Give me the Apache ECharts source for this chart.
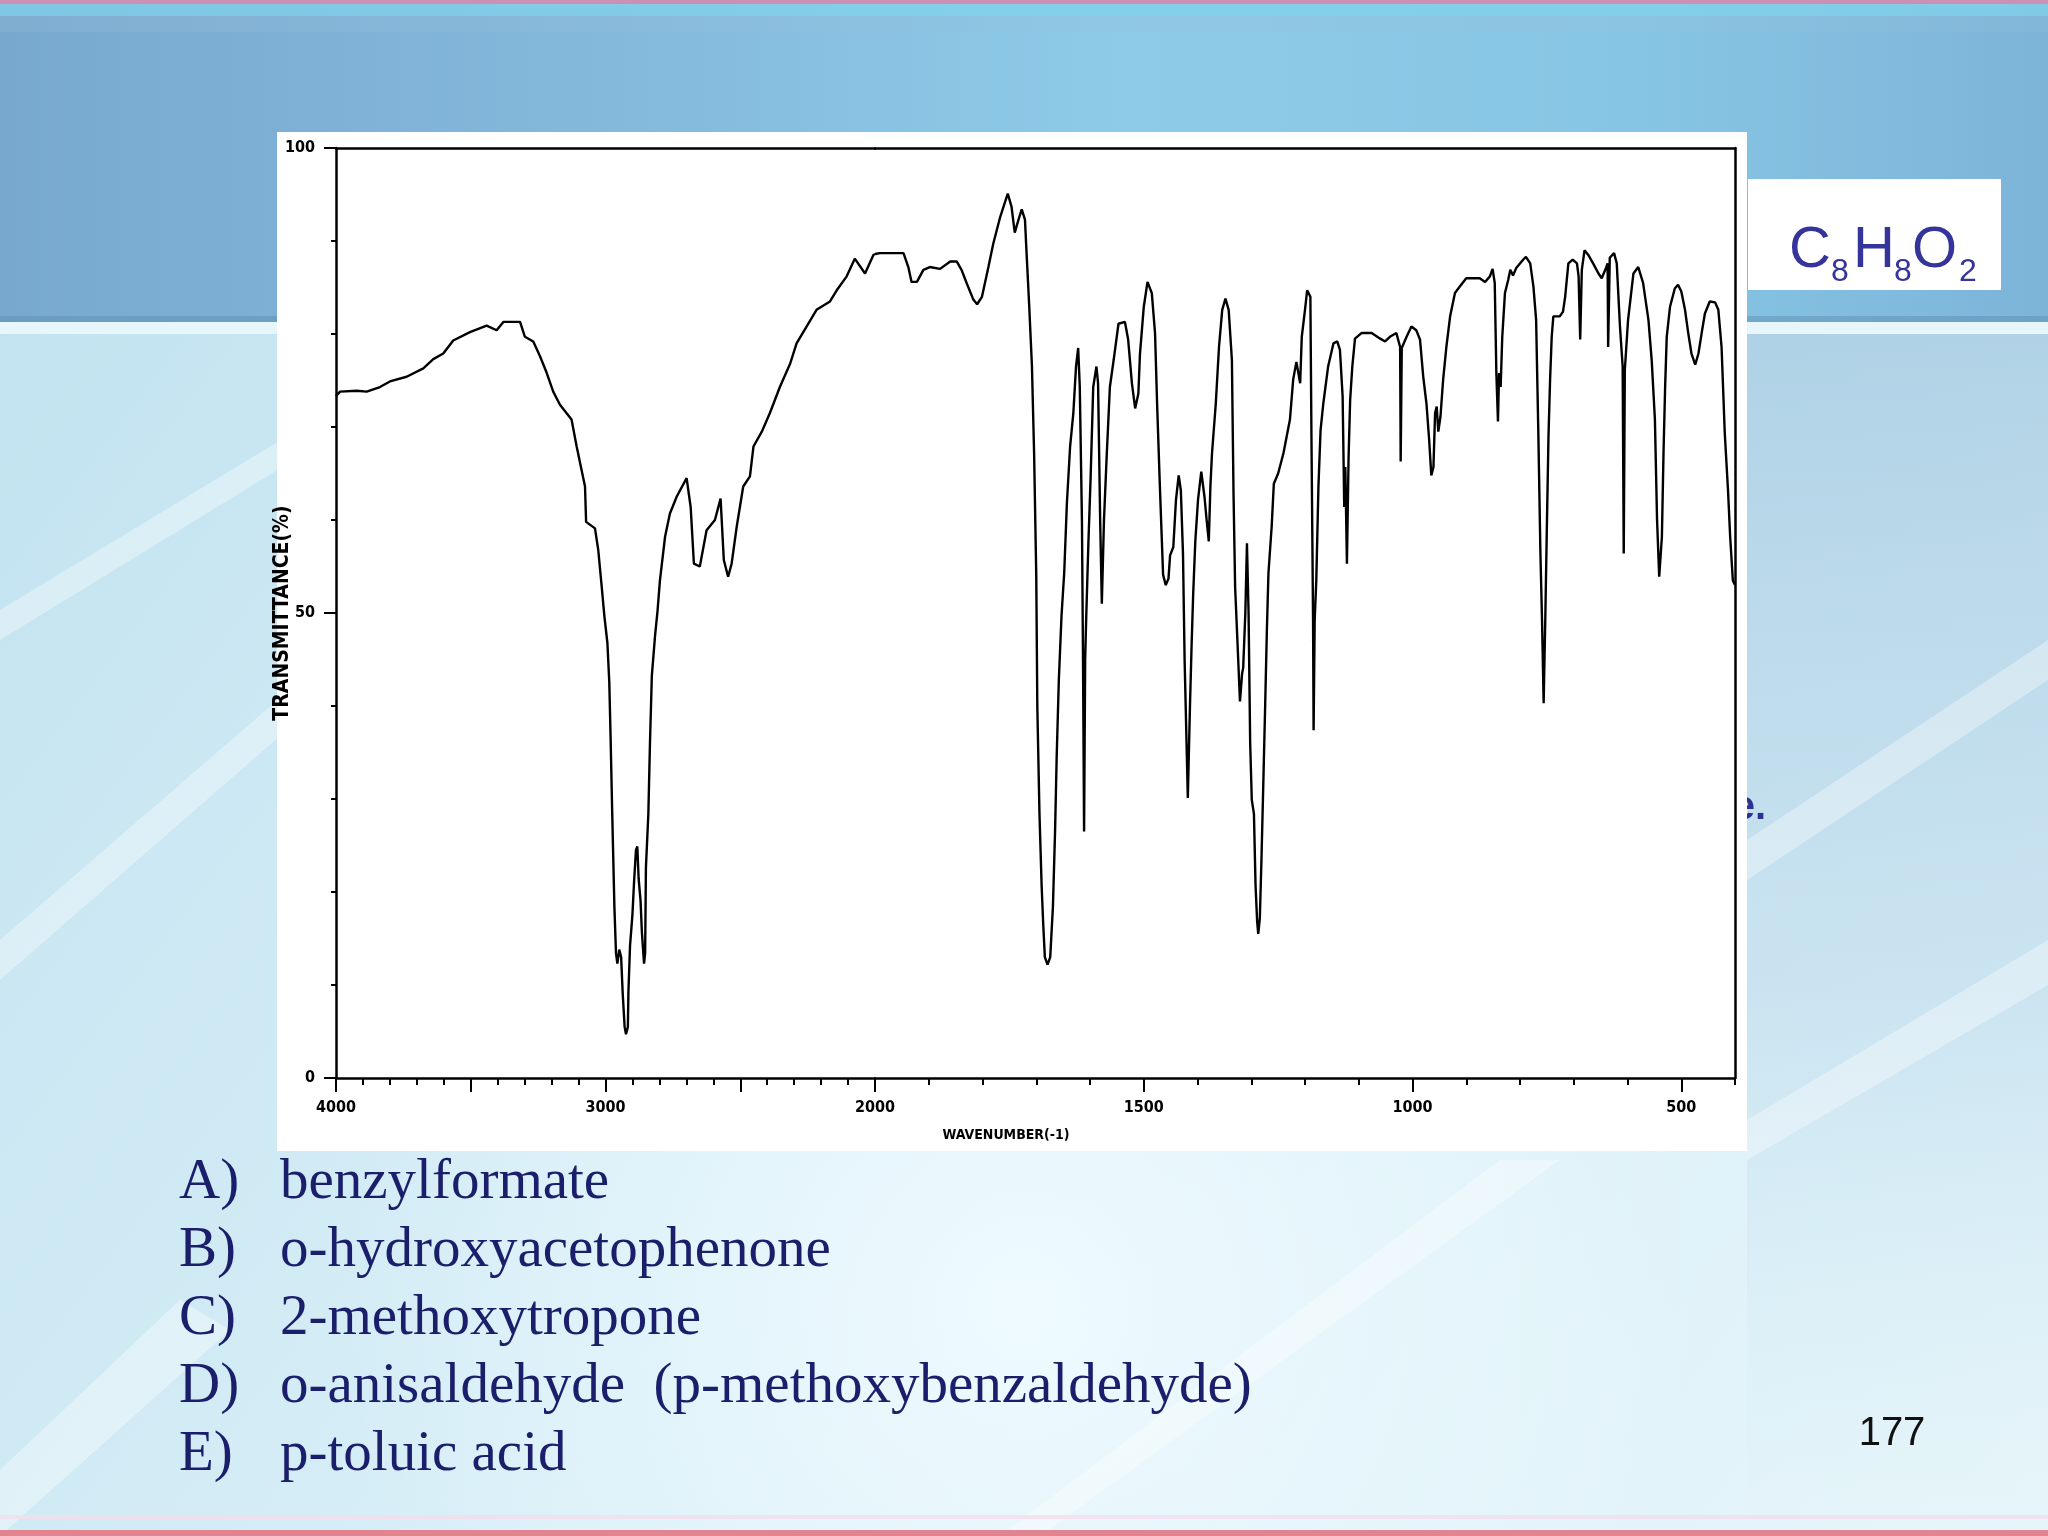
<!DOCTYPE html>
<html>
<head>
<meta charset="utf-8">
<script src="https://cdn.jsdelivr.net/npm/echarts@6/dist/echarts.min.js"></script>
<style>
html,body{margin:0;padding:0;background:#cfe9f4;}
#chart{width:2048px;height:1536px;}
</style>
</head>
<body>
<div id="chart"></div>
<script>
// ---- Data (wavenumber cm-1, transmittance %) ----
const wavenumber = [
4000,3985,3923,3886,3837,3800,3738,3676,3639,3602,3565,3503,3441,3404,3379,3317,3299,3268,3243,3218,
3194,3169,3126,3107,3089,3076,3072,3039,3027,3014,3004,2993,2986,2981,2975,2967,2961,2956,2949,2942,
2936,2929,2924,2917,2915,2909,2900,2894,2887,2882,2877,2870,2865,2857,2853,2850,2841,2835,2828,2816,
2807,2798,2779,2761,2736,2699,2684,2672,2650,2625,2594,2573,2561,2545,2532,2513,2489,2464,2451,2420,
2390,2353,2315,2291,2254,2217,2167,2142,2105,2075,2037,2006,2000,
1991,1966,1947,1938,1932,1922,1910,1898,1879,1860,1848,1839,1829,1817,1810,1801,1789,1780,1767,1753,
1746,1740,1733,1727,1721,1718,1713,1708,1704,1700,1698,1694,1690,1687,1684,1679,1674,1669,1665,1662,
1658,1653,1648,1643,1637,1631,1626,1622,1619,1615,1613,1611,1609,1607,1603,1599,1594,1588,1585,1581,
1578,1574,1569,1563,1556,1547,1535,1529,1522,1516,1510,1507,1500,1493,1485,1479,1475,1470,1464,1459,
1454,1451,1445,1440,1435,1431,1427,1424,1418,1414,1411,1408,1404,1399,1393,1387,1383,1379,1376,1373,
1366,1360,1354,1348,1342,1336,1333,1330,1325,1321,1317,1315,1311,1308,1305,1302,1299,1295,1292,1289,
1287,1284,1281,1277,1274,1271,1268,1262,1258,1250,1240,1228,1222,1216,1209,1206,1200,1196,1190,1188,
1185,1184,1182,1179,1175,1171,1166,1157,1147,1140,1135,1130,1127,1125,1122,1119,1116,1112,1107,1095,
1076,1060,1051,1042,1030,1023,1022,1020,1011,1002,993,986,980,974,969,965,961,958,955,952,
948,943,937,930,921,912,900,875,865,856,851,847,844,841,839,836,833,828,822,818,
813,807,797,789,781,775,770,766,762,759,756,753,750,747,744,741,738,726,720,716,
710,702,694,691,688,685,680,673,664,654,648,640,637,636,633,625,620,614,609,607,
605,599,589,580,571,561,555,549,545,541,536,533,530,527,521,512,506,500,493,487,
481,474,468,462,456,447,437,431,425,419,413,409,404,400
];
const transmittance = [
73.3,73.8,73.9,73.8,74.3,74.9,75.4,76.3,77.3,77.9,79.3,80.2,80.9,80.4,81.3,81.3,79.7,79.2,77.6,75.8,
73.8,72.4,70.8,67.9,65.4,63.6,59.8,59.1,56.8,52.8,49.6,46.8,42.6,36.5,28.4,18.4,13.4,12.3,13.8,13.0,
9.0,5.5,4.7,5.5,9.2,14.2,17.6,21.1,24.5,24.9,21.4,19.1,15.7,12.3,13.4,22.6,28.4,36.0,43.3,47.6,
50.2,53.5,58.2,60.7,62.5,64.5,61.4,55.3,55.0,58.9,60.0,62.3,55.7,53.9,55.3,59.3,63.6,64.7,67.9,69.5,
71.5,74.3,76.8,79.0,80.8,82.6,83.5,84.7,86.2,88.1,86.5,88.5,88.6,
88.7,88.7,88.7,87.2,85.6,85.6,86.9,87.2,87.0,87.8,87.8,86.9,85.4,83.7,83.2,84.0,87.2,89.7,92.6,95.1,
93.7,90.9,92.3,93.4,92.3,88.7,82.9,76.5,67.2,54.1,39.9,28.4,20.7,16.5,13.0,12.2,13.0,18.4,26.5,34.5,
42.8,49.7,54.3,61.8,67.9,71.5,76.5,78.5,74.3,60.0,45.0,26.5,45.0,49.6,57.5,64.3,74.3,76.5,74.7,59.7,
51.0,60.0,66.8,74.3,77.2,81.1,81.3,79.4,74.7,72.0,73.6,77.9,82.9,85.6,84.4,80.1,72.2,63.6,54.1,53.0,
53.7,56.2,57.1,62.2,64.8,63.2,56.4,45.0,30.1,40.0,46.5,52.1,57.8,62.2,65.2,62.5,60.0,57.7,63.6,67.2,
72.5,78.6,82.6,83.8,82.6,77.2,62.9,52.8,46.0,40.5,43.5,44.1,50.0,57.5,50.0,36.0,29.9,28.4,20.7,16.8,
15.5,17.2,23.5,33.0,40.3,48.0,54.3,59.3,63.9,65.0,67.2,70.8,75.1,77.0,74.7,79.7,82.6,84.7,84.0,69.0,
49.2,37.4,49.2,53.5,63.6,69.7,72.5,76.5,79.0,79.2,78.3,73.3,61.4,65.7,55.3,66.5,72.9,76.5,79.5,80.1,
80.1,79.5,79.2,79.7,80.1,78.6,66.3,78.5,79.7,80.8,80.4,79.4,75.4,72.5,68.6,64.8,65.7,71.5,72.2,69.5,
71.1,75.1,78.6,81.9,84.4,85.1,86.0,86.0,85.6,86.2,87.0,85.5,75.8,70.6,75.8,74.3,79.7,84.4,85.8,86.9,
86.3,87.1,87.8,88.3,87.6,85.1,81.5,69.7,56.4,49.2,40.3,49.2,59.3,69.0,75.1,79.7,81.9,81.9,82.4,84.0,
87.6,88.0,87.6,86.2,79.4,86.9,89.0,88.5,87.6,86.5,86.0,87.1,87.6,78.6,88.2,88.7,87.6,80.8,76.5,56.4,
76.1,81.5,86.5,87.2,85.5,81.5,77.2,70.8,60.0,53.9,58.2,67.2,74.3,79.7,82.9,84.9,85.3,84.6,82.6,80.1,
77.9,76.7,77.9,80.1,82.2,83.5,83.4,82.6,78.6,69.3,63.2,58.2,53.5,53.0
];
const xLabeledTicks = [4000, 3000, 2000, 1500, 1000, 500];
const yLabeledTicks = [0, 50, 100];
const answers = [
  ['A)', 'benzylformate'],
  ['B)', 'o-hydroxyacetophenone'],
  ['C)', '2-methoxytropone'],
  ['D)', 'o-anisaldehyde  (p-methoxybenzaldehyde)'],
  ['E)', 'p-toluic acid']
];
const formulaParts = [['C', false], ['8', true], ['H', false], ['8', true], ['O', false], ['2', true]];
const pageNumber = '177';
const xAxisName = 'WAVENUMBER(-1)';
const yAxisName = 'TRANSMITTANCE(%)';

// ---- build series data ----
const pairs = wavenumber.map((w, i) => [w, transmittance[i]]);
const highPart = pairs.filter(p => p[0] >= 2000);
const lowPart = pairs.filter(p => p[0] <= 2000);

// ---- layout ----
const PLOT_TOP = 148, PLOT_H = 930;
const X0 = 336, XB = 875, X1 = 1735;
const tickFont = "'Liberation Sans Narrow','DejaVu Sans Condensed','Liberation Sans',sans-serif";
const AX = '#000';

const chart = echarts.init(document.getElementById('chart'), null, {renderer: 'canvas'});

// background graphics
const g = [];
g.push({type:'rect', z:0, shape:{x:0,y:0,width:2048,height:1536},
  style:{fill:new echarts.graphic.LinearGradient(0,0,1,1,[
    {offset:0,color:'#bfe1ef'},{offset:0.5,color:'#d7eef7'},{offset:1,color:'#e6f5fa'}])}});
g.push({type:'rect', z:0, shape:{x:0,y:0,width:2048,height:1536},
  style:{fill:new echarts.graphic.RadialGradient(0.5,0.85,0.45,[
    {offset:0,color:'rgba(240,251,255,0.9)'},{offset:1,color:'rgba(240,251,255,0)'}])}});
g.push({type:'rect', z:0, shape:{x:1747,y:330,width:301,height:1200},
  style:{fill:new echarts.graphic.LinearGradient(0,0,0,1,[
    {offset:0,color:'rgba(140,185,215,0.55)'},{offset:0.55,color:'rgba(160,200,225,0.35)'},
    {offset:1,color:'rgba(200,230,242,0)'}])}});
// header band
g.push({type:'rect', z:0, shape:{x:0,y:0,width:2048,height:322},
  style:{fill:new echarts.graphic.LinearGradient(0,0,1,0,[
    {offset:0,color:'#78a8ce'},{offset:0.3,color:'#84b9dc'},{offset:0.55,color:'#8dcbe8'},
    {offset:0.8,color:'#87c5e4'},{offset:1,color:'#7cb4d8'}])}});
g.push({type:'rect', z:0, shape:{x:0,y:4,width:2048,height:12}, style:{fill:'rgba(130,210,235,0.75)'}});
g.push({type:'rect', z:0, shape:{x:0,y:16,width:2048,height:16}, style:{fill:'rgba(150,190,220,0.25)'}});
g.push({type:'rect', z:0, shape:{x:0,y:0,width:2048,height:4}, style:{fill:'#cc90b0'}});
g.push({type:'rect', z:0, shape:{x:0,y:316,width:2048,height:6}, style:{fill:'rgba(90,140,180,0.45)'}});
g.push({type:'rect', z:0, shape:{x:0,y:322,width:2048,height:12}, style:{fill:'#e6f6fb'}});
// diagonal streaks
const streaks = [
  [[0,640],[0,610],[380,380],[400,395]],
  [[0,980],[0,940],[370,620],[390,640]],
  [[1747,880],[1747,840],[2048,640],[2048,680]],
  [[1747,1160],[1747,1120],[2048,940],[2048,985]],
  [[1040,1536],[1000,1536],[1500,1160],[1560,1160]],
  [[0,1536],[0,1470],[180,1300],[230,1330]]
];
streaks.forEach(p => g.push({type:'polygon', z:0, shape:{points:p}, style:{fill:'rgba(255,255,255,0.35)'}}));
// bottom lines
g.push({type:'rect', z:0, shape:{x:0,y:1515,width:2048,height:4}, style:{fill:'rgba(245,220,235,0.8)'}});
g.push({type:'rect', z:0, shape:{x:0,y:1530,width:2048,height:6}, style:{fill:'#e1848f'}});
// text hidden behind the spectrum panel
g.push({type:'text', z:1, x:1766, y:828, style:{text:'e.', font:"bold 40px 'Liberation Sans', Arial, sans-serif",
  fill:'#2e3192', textAlign:'right', textVerticalAlign:'bottom'}});
// spectrum panel
g.push({type:'rect', z:2, shape:{x:277,y:132,width:1470,height:1019}, style:{fill:'#ffffff'}});
// formula box
g.push({type:'rect', z:2, shape:{x:1748,y:179,width:253,height:111}, style:{fill:'#ffffff'}});
const formulaX = [1789, 1831, 1853, 1894, 1912, 1959];
formulaParts.forEach((p, i) => {
  g.push({type:'text', z:4, x:formulaX[i], y: p[1] ? 272 : 251,
    style:{text:p[0], font:(p[1] ? '32px' : '58px') + " 'Liberation Sans', Arial, sans-serif",
      fill:'#34349a', textAlign:'left', textVerticalAlign:'middle'}});
});
// answers
answers.forEach((a, i) => {
  const yb = 1212 + i * 68;
  g.push({type:'text', z:4, x:179, y:yb, style:{text:a[0], font:"57px 'Liberation Serif','Times New Roman',serif",
    fill:'#1b1f6b', textAlign:'left', textVerticalAlign:'bottom'}});
  g.push({type:'text', z:4, x:280, y:yb, style:{text:a[1], font:"57px 'Liberation Serif','Times New Roman',serif",
    fill:'#1b1f6b', textAlign:'left', textVerticalAlign:'bottom'}});
});
// page number
g.push({type:'text', z:4, x:1892, y:1434, style:{text:pageNumber, font:"40px 'Liberation Sans', Arial, sans-serif",
  fill:'#111111', textAlign:'center', textVerticalAlign:'middle'}});
// x axis name
g.push({type:'text', z:4, x:1006, y:1135, style:{text:xAxisName, font:"bold 14px " + tickFont,
  fill:'#000', textAlign:'center', textVerticalAlign:'middle'}});

const axLine = {show:true, lineStyle:{color:AX, width:2.5}};
const noThing = {show:false};
const labelStyle = {color:'#000', fontFamily:tickFont, fontSize:16, fontWeight:'bold'};

const option = {
  animation: false,
  backgroundColor: 'transparent',
  graphic: {elements: g},
  grid: [
    {left: X0, top: PLOT_TOP, width: XB - X0, height: PLOT_H, containLabel:false},
    {left: XB, top: PLOT_TOP, width: X1 - XB, height: PLOT_H, containLabel:false},
    {left: XB, top: PLOT_TOP, width: (X1 - XB) * 1500 / 1600, height: PLOT_H, containLabel:false}
  ],
  xAxis: [
    {gridIndex:0, type:'value', min:2000, max:4000, inverse:true, interval:500, z:10,
      axisLine:axLine, splitLine:noThing,
      axisTick:{show:true, length:14, lineStyle:{color:AX, width:2}},
      minorTick:{show:true, splitNumber:5, length:7, lineStyle:{color:AX, width:2}},
      axisLabel:Object.assign({show:true, margin:22,
        formatter: v => xLabeledTicks.includes(v) ? String(v) : ''}, labelStyle)},
    {gridIndex:1, type:'value', min:400, max:2000, inverse:true, interval:100, z:10,
      axisLine:axLine, splitLine:noThing,
      axisTick:{show:true, length:7, lineStyle:{color:AX, width:2}},
      axisLabel:noThing},
    {gridIndex:2, type:'value', min:500, max:2000, inverse:true, interval:500, z:10,
      axisLine:noThing, splitLine:noThing,
      axisTick:{show:true, length:14, lineStyle:{color:AX, width:2}},
      axisLabel:Object.assign({show:true, margin:22,
        formatter: v => (xLabeledTicks.includes(v) && v !== 2000) ? String(v) : ''}, labelStyle)},
    {gridIndex:0, type:'value', position:'top', min:2000, max:4000, inverse:true, z:10,
      axisLine:axLine, axisTick:noThing, axisLabel:noThing, splitLine:noThing},
    {gridIndex:1, type:'value', position:'top', min:400, max:2000, inverse:true, z:10,
      axisLine:axLine, axisTick:noThing, axisLabel:noThing, splitLine:noThing}
  ],
  yAxis: [
    {gridIndex:0, type:'value', min:0, max:100, interval:50, z:10,
      axisLine:axLine, splitLine:noThing,
      axisTick:{show:true, length:12, lineStyle:{color:AX, width:2}},
      minorTick:{show:true, splitNumber:5, length:5, lineStyle:{color:AX, width:2}},
      axisLabel:Object.assign({show:true, margin:21,
        formatter: v => yLabeledTicks.includes(v) ? String(v) : ''}, labelStyle),
      name: yAxisName, nameLocation:'middle', nameGap:43, nameRotate:90, nameMoveOverlap:false,
      nameTextStyle:{color:'#000', fontFamily:tickFont, fontSize:21, fontWeight:'bold'}},
    {gridIndex:1, type:'value', min:0, max:100, position:'right', z:10,
      axisLine:axLine, axisTick:noThing, axisLabel:noThing, splitLine:noThing},
    {gridIndex:2, type:'value', min:0, max:100, show:false}
  ],
  series: [
    {type:'line', xAxisIndex:0, yAxisIndex:0, data: highPart, showSymbol:false, symbol:'none', z:11,
      lineStyle:{color:'#000', width:2.4}},
    {type:'line', xAxisIndex:1, yAxisIndex:1, data: lowPart, showSymbol:false, symbol:'none', z:11,
      lineStyle:{color:'#000', width:2.4}}
  ]
};
chart.setOption(option);
</script>
</body>
</html>
